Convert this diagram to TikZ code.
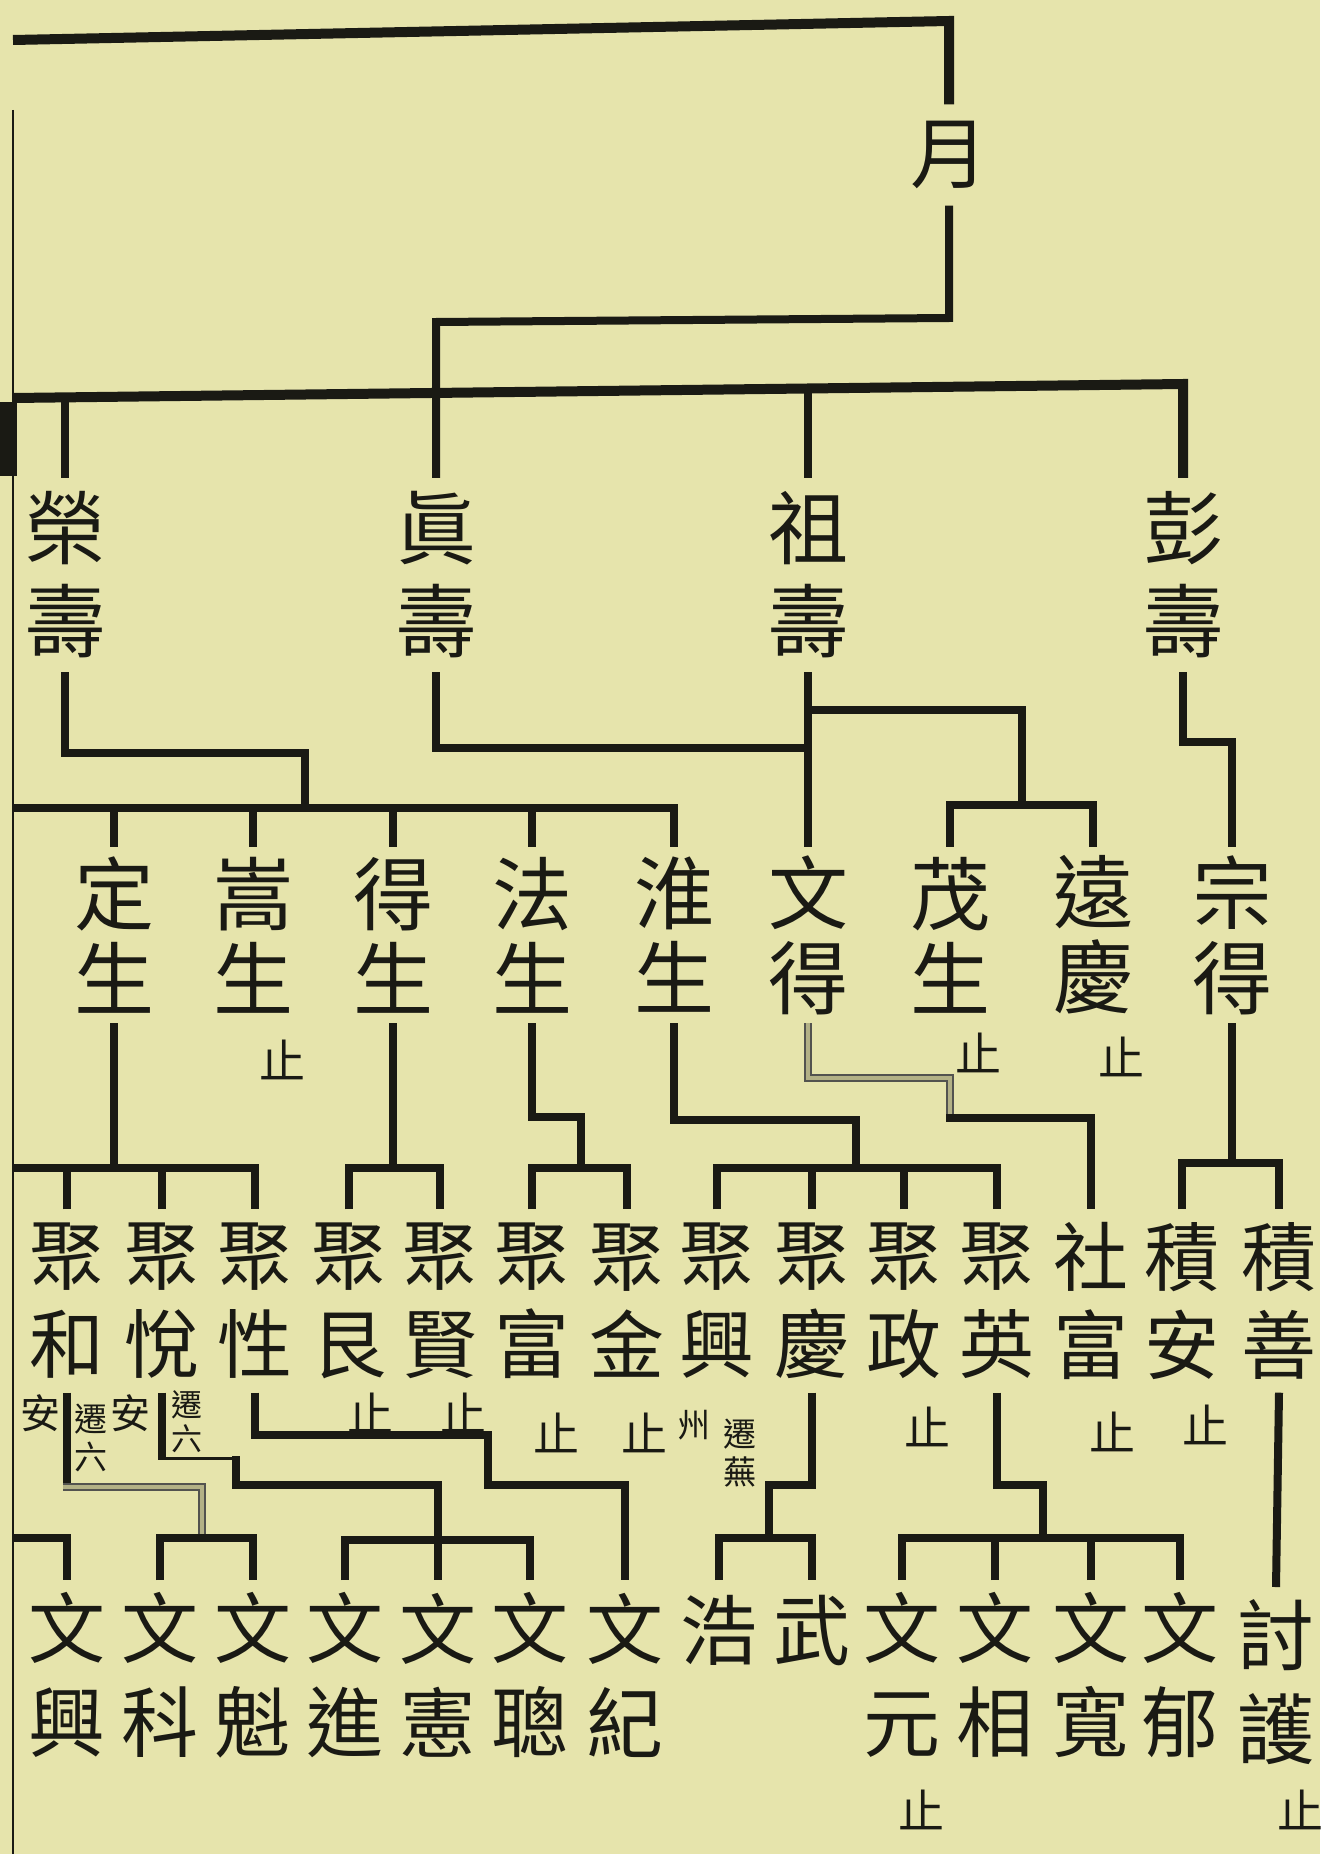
\documentclass[tikz,border=0pt]{standalone}
\usepackage{fontspec}
\newfontfamily\cjk{Noto Sans CJK TC}
\definecolor{paper}{RGB}{230,228,172}
\definecolor{ink}{RGB}{26,26,20}
\tikzset{
  ln/.style={draw=ink, line width=8pt},
  thk/.style={draw=ink, line width=10pt},
  thinln/.style={draw=ink, line width=3pt},
  hollow/.style={draw=ink!75, line width=1.8pt, double=paper!75!ink, double distance=4pt},
  nm/.style={inner sep=0pt, minimum width=80pt, align=center, text=ink},
  Lzero/.style={nm, font=\cjk\fontsize{78}{78}\selectfont, minimum height=101pt},
  Lone/.style={nm, font=\cjk\fontsize{80}{93}\selectfont, minimum height=194pt},
  Ltwo/.style={nm, font=\cjk\fontsize{80}{85}\selectfont, minimum height=176pt},
  Lthree/.style={nm, font=\cjk\fontsize{75}{88}\selectfont, minimum height=183pt},
  Lfour/.style={nm, font=\cjk\fontsize{77}{94}\selectfont, minimum height=190pt, anchor=north},
  Lsingle/.style={nm, font=\cjk\fontsize{77}{94}\selectfont, minimum height=100pt, anchor=north},
  stopmark/.style={inner sep=0pt, text=ink, font=\cjk\fontsize{46}{46}\selectfont},
  anno/.style={inner sep=0pt, align=center, text=ink, font=\cjk\fontsize{40}{42}\selectfont},
  annosm/.style={inner sep=0pt, align=center, text=ink, font=\cjk\fontsize{33}{38}\selectfont},
}
\begin{document}
\begin{tikzpicture}[x=1pt,y=-1pt]
\fill[paper] (0,0) rectangle (1320,1854);
% page border at left
\draw[ink, line width=2.5pt] (13,110) -- (13,1854);
\fill[ink] (0,402) rectangle (17,476);

% ---- nodes ----
\node[Lzero] (yue) at (949,155) {月};

\node[Lone] (rong) at (65,575) {榮\\壽};
\node[Lone] (zhen) at (436,575) {眞\\壽};
\node[Lone] (zu)   at (808,575) {祖\\壽};
\node[Lone] (peng) at (1183,575) {彭\\壽};

\node[Ltwo] (ding)   at (114,935) {定\\生};
\node[Ltwo] (song)   at (253,935) {嵩\\生};
\node[Ltwo] (de)     at (393,935) {得\\生};
\node[Ltwo] (fa)     at (532,935) {法\\生};
\node[Ltwo] (huai)   at (674,935) {淮\\生};
\node[Ltwo] (wende)  at (808,935) {文\\得};
\node[Ltwo] (mao)    at (950,935) {茂\\生};
\node[Ltwo] (yuan)   at (1093,935) {遠\\慶};
\node[Ltwo] (zongde) at (1232,935) {宗\\得};

\node[Lthree] (juhe)    at (67,1301)  {聚\\和};
\node[Lthree] (juyue)   at (162,1301) {聚\\悅};
\node[Lthree] (juxing)  at (255,1301) {聚\\性};
\node[Lthree] (juyin)   at (349,1301) {聚\\艮};
\node[Lthree] (juxian)  at (440,1301) {聚\\賢};
\node[Lthree] (jufu)    at (532,1301) {聚\\富};
\node[Lthree] (jujin)   at (627,1301) {聚\\金};
\node[Lthree] (juxingb) at (717,1301) {聚\\興};
\node[Lthree] (juqing)  at (812,1301) {聚\\慶};
\node[Lthree] (juzheng) at (904,1301) {聚\\政};
\node[Lthree] (juying)  at (997,1301) {聚\\英};
\node[Lthree] (shefu)   at (1091,1301) {社\\富};
\node[Lthree] (jian)    at (1182,1301) {積\\安};
\node[Lthree] (jishan)  at (1279,1301) {積\\善};

\node[Lfour] (wenxing)  at (67,1580)  {文\\興};
\node[Lfour] (wenke)    at (160,1580) {文\\科};
\node[Lfour] (wenkui)   at (253,1580) {文\\魁};
\node[Lfour] (wenjin)   at (345,1580) {文\\進};
\node[Lfour] (wenxian)  at (438,1580) {文\\憲};
\node[Lfour] (wencong)  at (530,1580) {文\\聰};
\node[Lfour] (wenji)    at (625,1580) {文\\紀};
\node[Lsingle] (hao)    at (719,1580) {浩};
\node[Lsingle] (wu)     at (812,1580) {武};
\node[Lfour] (wenyuan)  at (902,1580) {文\\元};
\node[Lfour] (wenxiang) at (995,1580) {文\\相};
\node[Lfour] (wenkuan)  at (1091,1580) {文\\寬};
\node[Lfour] (wenyu)    at (1180,1580) {文\\郁};
\node[Lfour] (taohu)    at (1276,1587) {討\\護};

% ---- stop marks ----
\node[stopmark] (s1)  at (282,1060) {止};
\node[stopmark] (s2)  at (978,1053) {止};
\node[stopmark] (s3)  at (1121,1057) {止};
\node[stopmark] (s4)  at (370,1413) {止};
\node[stopmark] (s5)  at (463,1413) {止};
\node[stopmark] (s6)  at (556,1433) {止};
\node[stopmark] (s7)  at (644,1433) {止};
\node[stopmark] (s8)  at (927,1427) {止};
\node[stopmark] (s9)  at (1112,1432) {止};
\node[stopmark] (s10) at (1205,1425) {止};
\node[stopmark] (s11) at (921,1810) {止};
\node[stopmark] (s12) at (1300,1810) {止};

% ---- annotations ----
\node[anno] (a1) at (40,1413) {安};
\node[annosm] (a2) at (91,1438) {遷\\六};
\node[anno] (a3) at (130,1413) {安};
\node[annosm, font=\cjk\fontsize{31}{34}\selectfont] (a4) at (187,1422) {遷\\六};
\node[annosm] (a5) at (694,1425) {州};
\node[annosm] (a6) at (740,1453) {遷\\蕪};

% ---- connectors: top ----
\draw[thk] (yue.north) -- (949,21) -- (13,40);
\draw[ln] (yue.south) -- (949,318) -- (436,322) -- (zhen.north);
\draw[thk] (13,398) -- (1183,384) -- (peng.north);
\draw[ln] (rong.north) -- (65,398);
\draw[ln] (zu.north) -- (808,389);

% ---- generation 1 to 2 ----
\draw[ln] (rong.south) -- (65,753) -- (305,753) -- (305,808);
\draw[ln] (13,808) -- (674,808) -- (huai.north);
\draw[ln] (ding.north) -- (114,808);
\draw[ln] (song.north) -- (253,808);
\draw[ln] (de.north) -- (393,808);
\draw[ln] (fa.north) -- (532,808);
\draw[ln] (zhen.south) -- (436,748) -- (808,748);
\draw[ln] (zu.south) -- (wende.north);
\draw[ln] (808,710) -- (1022,710) -- (1022,805);
\draw[ln] (mao.north) -- (950,805) -- (1093,805) -- (yuan.north);
\draw[ln] (peng.south) -- (1183,742) -- (1232,742) -- (zongde.north);

% ---- generation 2 to 3 ----
\draw[ln] (ding.south) -- (114,1168);
\draw[ln] (13,1168) -- (255,1168) -- (juxing.north);
\draw[ln] (juhe.north) -- (67,1168);
\draw[ln] (juyue.north) -- (162,1168);

\draw[ln] (de.south) -- (393,1168);
\draw[ln] (juyin.north) -- (349,1168) -- (440,1168) -- (juxian.north);

\draw[ln] (fa.south) -- (532,1117) -- (581,1117) -- (581,1168);
\draw[ln] (jufu.north) -- (532,1168) -- (627,1168) -- (jujin.north);

\draw[ln] (huai.south) -- (674,1120) -- (856,1120) -- (856,1168);
\draw[ln] (juxingb.north) -- (717,1168) -- (997,1168) -- (juying.north);
\draw[ln] (juqing.north) -- (812,1168);
\draw[ln] (juzheng.north) -- (904,1168);

\draw[hollow] (wende.south) -- (808,1078) -- (950,1078) -- (950,1118);
\draw[ln] (946,1118) -- (1091,1118) -- (shefu.north);

\draw[ln] (zongde.south) -- (1232,1163);
\draw[ln] (jian.north) -- (1182,1163) -- (1279,1163) -- (jishan.north);

% ---- generation 3 to 4 ----
\draw[ln] (juhe.south) -- (67,1487);
\draw[hollow] (63,1487) -- (202,1487) -- (202,1538);
\draw[ln] (wenke.north) -- (160,1538) -- (253,1538) -- (wenkui.north);
\draw[ln] (13,1538) -- (67,1538) -- (wenxing.north);

\draw[ln] (juyue.south) -- (162,1460);
\draw[thinln] (162,1458) -- (236,1458);
\draw[ln] (236,1456) -- (236,1485) -- (438,1485) -- (wenxian.north);
\draw[ln] (wenjin.north) -- (345,1540) -- (530,1540) -- (wencong.north);

\draw[ln] (juxing.south) -- (255,1435) -- (488,1435) -- (488,1485) -- (625,1485) -- (wenji.north);

\draw[ln] (juqing.south) -- (812,1485) -- (769,1485) -- (769,1538);
\draw[ln] (hao.north) -- (719,1538) -- (812,1538) -- (wu.north);

\draw[ln] (juying.south) -- (997,1485) -- (1043,1485) -- (1043,1538);
\draw[ln] (wenyuan.north) -- (902,1538) -- (1180,1538) -- (wenyu.north);
\draw[ln] (wenxiang.north) -- (995,1538);
\draw[ln] (wenkuan.north) -- (1091,1538);

\draw[ln] (jishan.south) -- (taohu.north);

\pgfresetboundingbox
\useasboundingbox (0,0) rectangle (1320,1854);
\end{tikzpicture}
\end{document}
